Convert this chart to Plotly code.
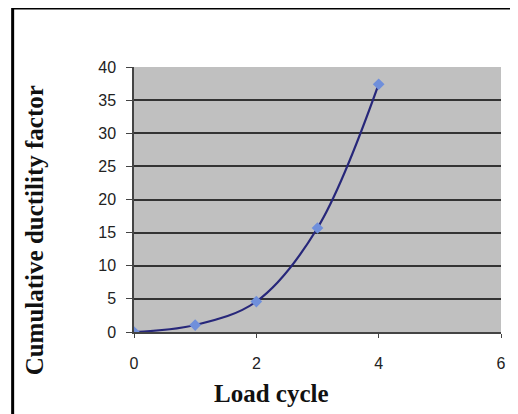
import plotly.graph_objects as go

load_cycle = [0, 1, 2, 3, 4]
ductility = [0.0, 1.05, 4.6, 15.7, 37.4]
x_ticks = [0, 2, 4, 6]
y_ticks = [0, 5, 10, 15, 20, 25, 30, 35, 40]
grid_vals = [5, 10, 15, 20, 25, 30, 35]

# page body has an 8px default margin, so the figure is 8px smaller
W, H = 510, 406
L, R, T, B = 126, 12, 59, 82
pw, ph = W - L - R, H - T - B

fig = go.Figure()
fig.add_trace(go.Scatter(
    x=load_cycle, y=ductility, mode="lines+markers",
    line=dict(color="#27277a", width=2.2, shape="spline", smoothing=1.0),
    marker=dict(symbol="diamond", size=9, color="#6f8fdb"),
    showlegend=False,
))

tickfont = dict(family="Liberation Sans, Arial, sans-serif", size=16, color="#222222")
titlefont = dict(family="Liberation Serif, Times New Roman, serif", size=25, color="#111111")

fig.update_xaxes(
    range=[0, 6], tickvals=x_ticks, ticks="outside", ticklen=4, tickcolor="#444444",
    showline=True, linecolor="#444444", linewidth=1.5, showgrid=False, zeroline=False,
    tickfont=tickfont, ticklabelstandoff=12,
)
fig.update_yaxes(
    range=[0, 40], tickvals=y_ticks, ticks="outside", ticklen=6, tickcolor="#444444",
    showline=True, linecolor="#444444", linewidth=1.5, showgrid=False, zeroline=False,
    tickfont=tickfont, ticklabelstandoff=7,
    minor=dict(tickvals=grid_vals, showgrid=True, gridcolor="#333333", gridwidth=1.5),
)

fig.add_annotation(text="<b>Load cycle</b>", xref="paper", yref="paper",
                   x=(265 - L) / pw, y=(H - B - 385) / ph,
                   xanchor="center", yanchor="middle", showarrow=False, font=titlefont)
fig.add_annotation(text="<b>Cumulative ductility factor</b>", xref="paper", yref="paper",
                   x=(25 - L) / pw, y=(H - B - 222) / ph, textangle=-90,
                   xanchor="center", yanchor="middle", showarrow=False, font=titlefont)

# outer frame (top and left edges)
xl = (3 - L) / pw
xr = (W + 5 - L) / pw
yt = (H - B - 0) / ph
yb = (H - B - (H + 5)) / ph
fig.add_shape(type="path", xref="paper", yref="paper",
              path=f"M {xl} {yb} L {xl} {yt} L {xr} {yt}",
              line=dict(color="#000000", width=3))

fig.update_layout(
    width=W, height=H,
    margin=dict(l=L, r=R, t=T, b=B),
    plot_bgcolor="#c0c0c0", paper_bgcolor="#ffffff",
)
fig.write_html("out.html")
